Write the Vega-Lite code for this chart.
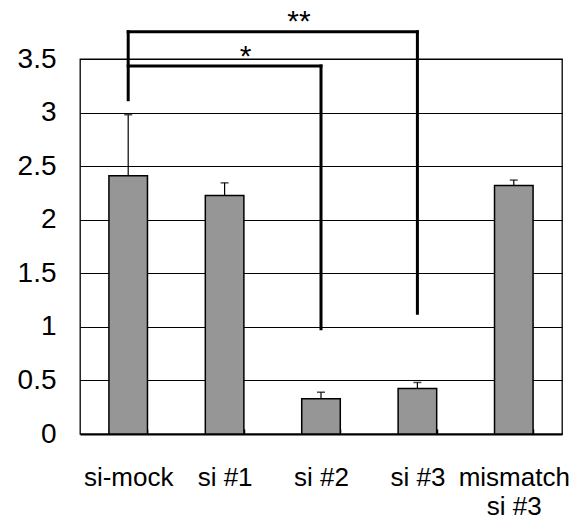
{
  "$schema": "https://vega.github.io/schema/vega-lite/v6.json",
  "autosize": {"type": "none"},
  "width": 482,
  "height": 375,
  "padding": {"left": 80, "top": 59, "right": 18, "bottom": 89},
  "background": "white",
  "config": {
    "view": {"stroke": "#000", "strokeWidth": 1.3},
    "font": "Liberation Sans"
  },
  "datasets": {
    "bars": [
      {"group": "si-mock", "value": 2.41, "upper": 2.98},
      {"group": "si #1", "value": 2.226, "upper": 2.344},
      {"group": "si #2", "value": 0.329, "upper": 0.39},
      {"group": "si #3", "value": 0.425, "upper": 0.481},
      {"group": "mismatch si #3", "value": 2.32, "upper": 2.37}
    ],
    "brackets": [
      {"from": "si-mock", "to": "si-mock", "y": 3.12, "y2": 3.755},
      {"from": "si-mock", "to": "si #3", "y": 3.755, "y2": 3.755},
      {"from": "si #3", "to": "si #3", "y": 1.127, "y2": 3.755},
      {"from": "si-mock", "to": "si #2", "y": 3.435, "y2": 3.435},
      {"from": "si #2", "to": "si #2", "y": 0.983, "y2": 3.435}
    ],
    "star2": [{"group": "si #2", "y": 3.755, "label": "**"}],
    "star1": [{"group": "si #1", "y": 3.435, "label": "*"}]
  },
  "encoding": {
    "x": {
      "field": "group",
      "type": "nominal",
      "scale": {
        "domain": ["si-mock", "si #1", "si #2", "si #3", "mismatch si #3"],
        "paddingInner": 0.6,
        "paddingOuter": 0.3
      },
      "axis": {
        "title": null,
        "labelAngle": 0,
        "labelFontSize": 26,
        "labelColor": "#000",
        "labelPadding": 35,
        "labelLineHeight": 29.5,
        "labelExpr": "datum.label == 'mismatch si #3' ? ['mismatch', 'si #3'] : datum.label",
        "domainColor": "#000",
        "domainWidth": 2,
        "ticks": true,
        "tickBand": "extent",
        "tickSize": -5,
        "tickColor": "#000",
        "tickWidth": 1.5
      }
    }
  },
  "layer": [
    {
      "data": {"name": "bars"},
      "mark": {"type": "bar", "fill": "#969696", "stroke": "#000", "strokeWidth": 1.5},
      "encoding": {
        "y": {
          "field": "value",
          "type": "quantitative",
          "scale": {"domain": [0, 3.5], "nice": false, "zero": true},
          "axis": {
            "title": null,
            "values": [0, 0.5, 1, 1.5, 2, 2.5, 3, 3.5],
            "format": "~g",
            "labelFontSize": 28,
            "labelColor": "#000",
            "labelPadding": 24,
            "ticks": false,
            "domain": false,
            "grid": true,
            "gridColor": "#000",
            "gridWidth": 1,
            "gridOpacity": 1
          }
        }
      }
    },
    {
      "data": {"name": "bars"},
      "mark": {"type": "rule", "color": "#000", "strokeWidth": 1.2},
      "encoding": {
        "y": {"field": "value", "type": "quantitative"},
        "y2": {"field": "upper"}
      }
    },
    {
      "data": {"name": "bars"},
      "mark": {"type": "tick", "orient": "horizontal", "color": "#000", "size": 8, "thickness": 1.5},
      "encoding": {
        "y": {"field": "upper", "type": "quantitative"}
      }
    },
    {
      "data": {"name": "brackets"},
      "mark": {"type": "rule", "color": "#000", "strokeWidth": 3, "strokeCap": "square"},
      "encoding": {
        "x": {"field": "from", "type": "nominal"},
        "x2": {"field": "to"},
        "y": {"field": "y", "type": "quantitative"},
        "y2": {"field": "y2"}
      }
    },
    {
      "data": {"name": "star2"},
      "mark": {"type": "text", "fontSize": 30, "color": "#000", "baseline": "alphabetic", "dx": -22, "dy": -1},
      "encoding": {
        "y": {"field": "y", "type": "quantitative"},
        "text": {"field": "label"}
      }
    },
    {
      "data": {"name": "star1"},
      "mark": {"type": "text", "fontSize": 30, "color": "#000", "baseline": "alphabetic", "dx": 21, "dy": 0},
      "encoding": {
        "y": {"field": "y", "type": "quantitative"},
        "text": {"field": "label"}
      }
    }
  ]
}
